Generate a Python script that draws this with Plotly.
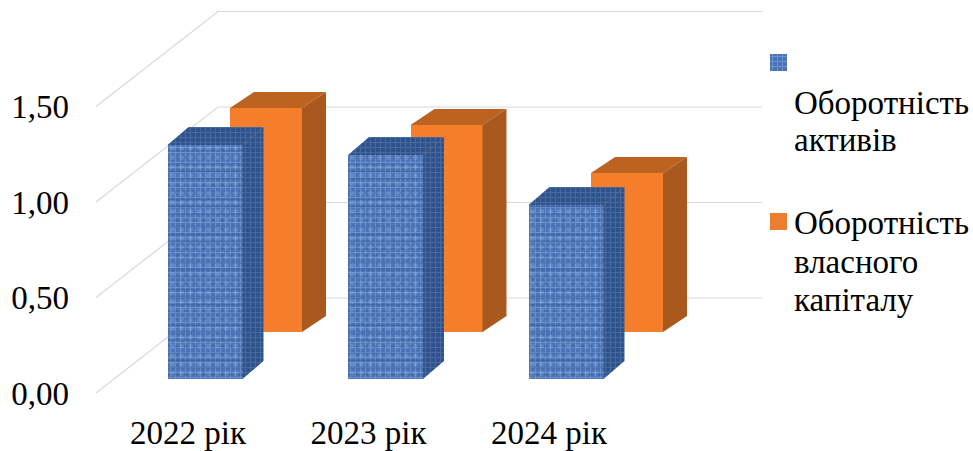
import plotly.graph_objects as go

# Chart data
years = ["2022 рік", "2023 рік", "2024 рік"]
asset_turnover = [1.225, 1.173, 0.911]
equity_turnover = [1.173, 1.084, 0.832]
tick_values = [0, 0.5, 1.0, 1.5]
tick_labels = ["0,00", "0,50", "1,00", "1,50"]
asset_lines = ["Оборотність", "активів"]
equity_lines = ["Оборотність", "власного", "капіталу"]

W, H = 973, 451
FONT = "Liberation Serif"
FONT_SIZE = 33
SX, SY = 180.5, 191.0  # pixels per category / per value unit
X0, Y0 = 188.0, 393.0  # pixel position of the first category and of value 0
DOM_L, DOM_R, DOM_B = 78.0, 762.0, 410.0


def ux(px):
    return px / SX


def uy(px):
    return px / SY


positions = list(range(len(years)))

# Oblique projection: each series sits at its own depth on the floor
BLUE = dict(dx=ux(17), w=ux(75), base=uy(14), ox=ux(21), oy=uy(18))
ORANGE = dict(dx=ux(78), w=ux(72), base=uy(61), ox=ux(24), oy=uy(16))
WALL_X, WALL_Y = ux(122), uy(95)
GRID_START = ux(96 - X0)
GRID_END = ux(DOM_R - X0)

fig = go.Figure()


def faces(values, g):
    """Outlines of the top and right faces of a row of oblique boxes."""
    top_x, top_y, side_x, side_y = [], [], [], []
    for p, v in zip(positions, values):
        left = p + g["dx"] - g["w"] / 2
        right = p + g["dx"] + g["w"] / 2
        y0, y1 = g["base"], g["base"] + v
        top_x += [left, right, right + g["ox"], left + g["ox"], left, None]
        top_y += [y1, y1, y1 + g["oy"], y1 + g["oy"], y1, None]
        side_x += [right, right + g["ox"], right + g["ox"], right, right, None]
        side_y += [y0, y0 + g["oy"], y1 + g["oy"], y1, y0, None]
    return top_x, top_y, side_x, side_y


def add_face(x, y, color, pattern=None):
    fig.add_trace(go.Scatter(
        x=x, y=y, mode="lines", fill="toself", fillcolor=color,
        line=dict(width=0), fillpattern=pattern,
        hoverinfo="skip", showlegend=False,
    ))


def add_front(values, g, name, pattern=None, color=None):
    fig.add_trace(go.Bar(
        x=[p + g["dx"] for p in positions], y=values, base=g["base"],
        width=g["w"], name=name, showlegend=False,
        marker=dict(color=color, line=dict(width=0), pattern=pattern),
    ))


CLEAR = "rgba(0,0,0,0)"
woven = dict(shape="+", size=5, solidity=0.36, bgcolor="#4A74B6",
             fgcolor="#8CAEE6", fillmode="overlay")
weft = dict(shape="-", size=7, solidity=0.28, bgcolor=CLEAR,
            fgcolor="rgba(40,72,132,0.6)", fillmode="overlay")
fleck = dict(shape=".", size=9, solidity=0.22, bgcolor=CLEAR,
             fgcolor="rgba(176,204,248,0.5)", fillmode="overlay")
woven_dark = dict(shape="+", size=5, solidity=0.38, bgcolor="#30528A",
                  fgcolor="#5B80BA", fillmode="overlay")

# Back row, then front row
add_front(equity_turnover, ORANGE, "Оборотність власного капіталу", color="#F47E2B")
add_front(asset_turnover, BLUE, "Оборотність активів", pattern=woven)
add_front(asset_turnover, BLUE, "Оборотність активів", pattern=weft, color=CLEAR)
add_front(asset_turnover, BLUE, "Оборотність активів", pattern=fleck, color=CLEAR)

tx, ty, sx, sy = faces(equity_turnover, ORANGE)
add_face(tx, ty, "#BC6322")
add_face(sx, sy, "#A9591D")
tx, ty, sx, sy = faces(asset_turnover, BLUE)
add_face(tx, ty, "#3A5C95", woven_dark)
add_face(sx, sy, "#30528A", woven_dark)

# Floor-to-wall gridlines bent along the left side and back wall
for v in tick_values:
    fig.add_shape(
        type="path", layer="below", xref="x", yref="y",
        path=(f"M {GRID_START} {v} L {GRID_START + WALL_X} {v + WALL_Y} "
              f"L {GRID_END} {v + WALL_Y}"),
        line=dict(color="#D9D9D9", width=1.2),
    )

# Legend swatches on their own small axes
fig.add_trace(go.Bar(x=[0], y=[1], width=1, xaxis="x2", yaxis="y2", showlegend=False,
                     hoverinfo="skip", marker=dict(line=dict(width=0), pattern=woven)))
fig.add_trace(go.Bar(x=[0], y=[1], width=1, xaxis="x3", yaxis="y3", showlegend=False,
                     hoverinfo="skip", marker=dict(color="#ED7D31", line=dict(width=0))))


def small_axes(top, bottom):
    hidden = dict(visible=False, fixedrange=True)
    return (dict(domain=[770 / W, 787 / W], range=[-0.5, 0.5], **hidden),
            dict(domain=[1 - bottom / H, 1 - top / H], range=[0, 1], **hidden))


x2, y2 = small_axes(54, 71)
x3, y3 = small_axes(213, 230)

# Legend text, one annotation per line
legend_rows = list(zip(asset_lines, [103, 140])) + list(zip(equity_lines, [223, 262, 300]))
annotations = [
    dict(text=t, x=792 / W, y=1 - yy / H, xref="paper", yref="paper",
         xanchor="left", yanchor="middle", showarrow=False,
         font=dict(family=FONT, size=FONT_SIZE, color="#000000"))
    for t, yy in legend_rows
]

axis_font = dict(family=FONT, size=FONT_SIZE, color="#000000")
fig.update_layout(
    width=W, height=H, margin=dict(l=0, r=0, t=0, b=0, autoexpand=False),
    paper_bgcolor="white", plot_bgcolor="white", showlegend=False,
    barmode="overlay", bargap=0, annotations=annotations,
    font=axis_font,
    xaxis=dict(
        domain=[DOM_L / W, DOM_R / W],
        range=[ux(DOM_L - X0), ux(DOM_R - X0)],
        tickmode="array", tickvals=positions, ticktext=years,
        showgrid=False, zeroline=False, showline=False, ticks="",
        tickfont=axis_font, fixedrange=True,
    ),
    yaxis=dict(
        domain=[1 - DOM_B / H, 1],
        range=[uy(Y0 - DOM_B), uy(Y0)],
        tickmode="array", tickvals=tick_values, ticktext=tick_labels,
        showgrid=False, zeroline=False, showline=False, ticks="",
        ticklabelstandoff=8,
        tickfont=axis_font, fixedrange=True,
    ),
    xaxis2=x2, yaxis2=y2, xaxis3=x3, yaxis3=y3,
)

fig.write_html("out.html")
